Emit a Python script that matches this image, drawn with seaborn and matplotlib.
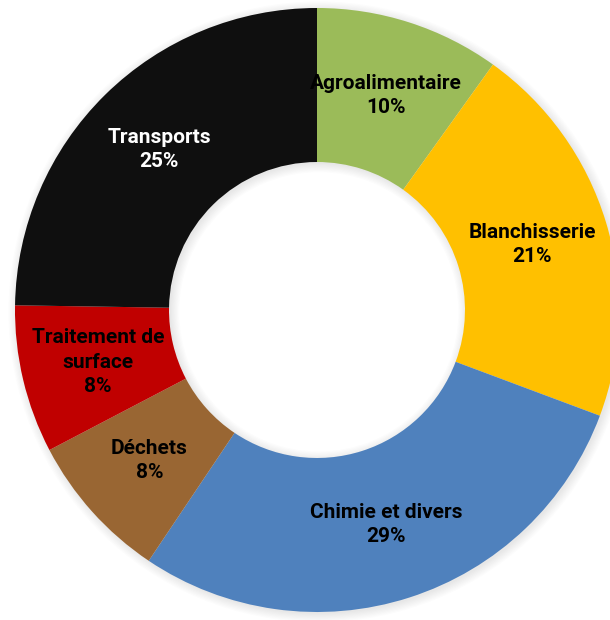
import matplotlib
matplotlib.use("Agg")
import matplotlib.pyplot as plt
import numpy as np
import seaborn as sns

# Répartition par secteur (en %)
secteurs = ["Agroalimentaire", "Blanchisserie", "Chimie et divers", "Déchets",
            "Traitement de\nsurface", "Transports"]
parts = [10, 21, 29, 8, 8, 25]
couleurs = ["#9BBB59", "#FFC000", "#4F81BD", "#996633", "#C00000", "#0F0F0F"]
couleurs_texte = ["black", "black", "black", "black", "black", "white"]

sns.set_theme(style="white")
plt.rcParams["font.family"] = ["Roboto", "DejaVu Sans"]

palette = sns.color_palette(couleurs)

fig = plt.figure(figsize=(6.10, 6.20), dpi=100)
ax = fig.add_axes([15 / 610, 8 / 620, 604 / 610, 604 / 620])

largeur = 0.51
# ombre douce autour de l'anneau
for k in range(8):
    ax.pie([1], radius=1.0 + 0.004 * k, startangle=90, colors=["#000000"],
           wedgeprops=dict(width=largeur + 0.008 * k, alpha=0.012, linewidth=0),
           center=(0.006, -0.006))

wedges, _ = ax.pie(parts, colors=palette, startangle=90, counterclock=False,
                   radius=1.0, wedgeprops=dict(width=largeur, linewidth=0))

r_label = 0.745
for w, nom, v, ct in zip(wedges, secteurs, parts, couleurs_texte):
    ang = np.deg2rad((w.theta1 + w.theta2) / 2)
    x, y = r_label * np.cos(ang), r_label * np.sin(ang)
    ax.text(x, y, f"{nom}\n{v}%", ha="center", va="center", color=ct,
            fontsize=15, fontweight="bold", linespacing=1.35)

ax.set_xlim(-1, 1)
ax.set_ylim(-1, 1)
ax.set_aspect("equal")
ax.axis("off")

fig.savefig("out.png", dpi=100)
